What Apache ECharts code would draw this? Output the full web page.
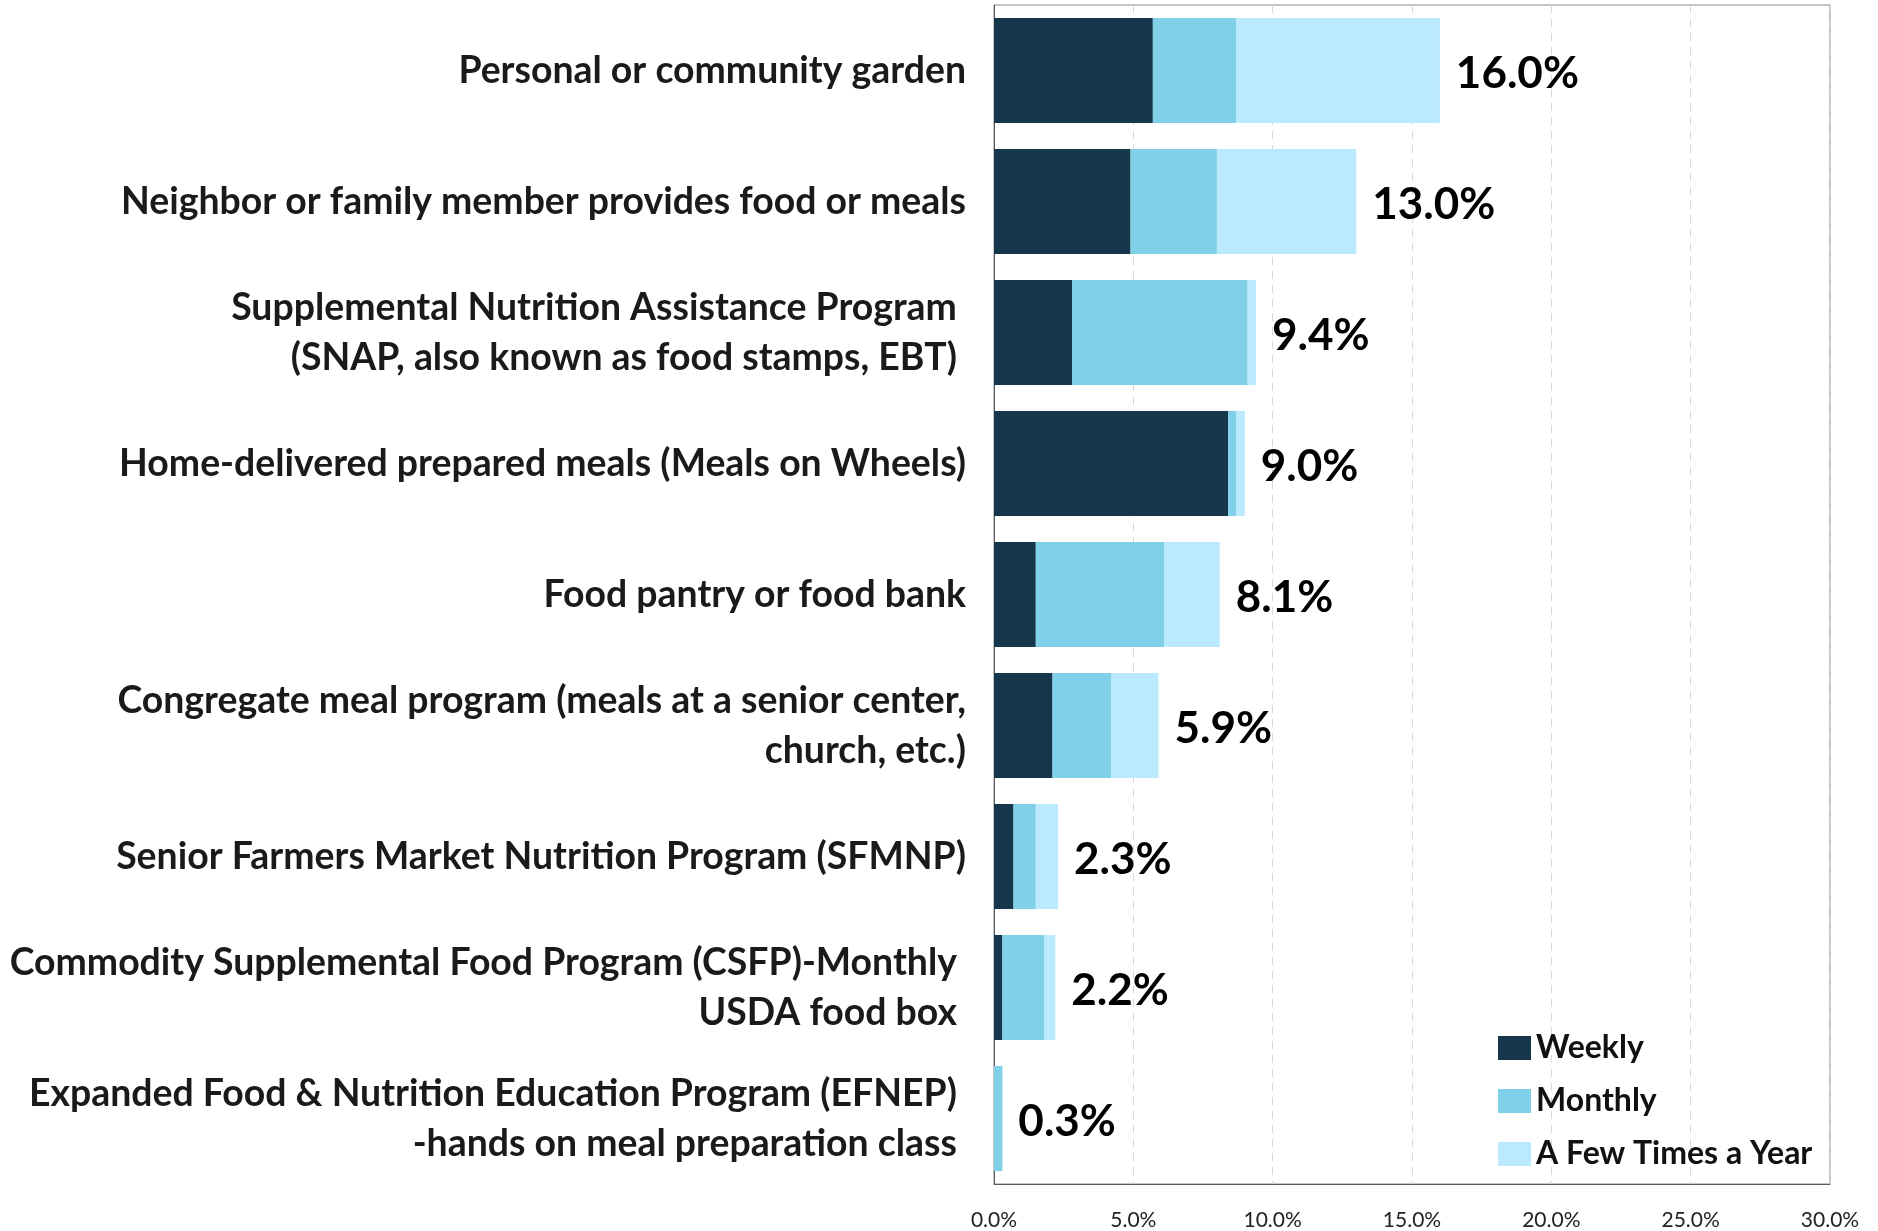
<!DOCTYPE html>
<html>
<head>
<meta charset="utf-8">
<script src="https://cdn.jsdelivr.net/npm/echarts@6.0.0/dist/echarts.min.js"></script>
<style>
    html, body { margin: 0; padding: 0; background: #fff; }
    #myChart { width: 1878px; height: 1231px; }
</style>
</head>
<body>
<div id="myChart"></div>
<script>
// categories, top to bottom
var categories = [
    'Personal or community garden',
    'Neighbor or family member provides food or meals',
    'Supplemental Nutrition Assistance Program \n(SNAP, also known as food stamps, EBT) ',
    'Home-delivered prepared meals (Meals on Wheels)',
    'Food pantry or food bank',
    'Congregate meal program (meals at a senior center,\nchurch, etc.)',
    'Senior Farmers Market Nutrition Program (SFMNP)',
    'Commodity Supplemental Food Program (CSFP)-Monthly \nUSDA food box ',
    'Expanded Food & Nutrition Education Program (EFNEP) \n-hands on meal preparation class '
];
var seriesNames = ['Weekly', 'Monthly', 'A Few Times a Year'];
var weekly   = [5.7, 4.9, 2.8, 8.4, 1.5, 2.1, 0.7, 0.3, 0];
var monthly  = [3.0, 3.1, 6.3, 0.3, 4.6, 2.1, 0.8, 1.5, 0.3];
var fewTimes = [7.3, 5.0, 0.3, 0.3, 2.0, 1.7, 0.8, 0.4, 0];
var totals   = [16.0, 13.0, 9.4, 9.0, 8.1, 5.9, 2.3, 2.2, 0.3];
var colors = ['#16364b', '#7fd0e8', '#bbe9fd'];

var fontName = 'Lato';
var myChart = echarts.init(document.getElementById('myChart'));

function stackBar(name, data, color) {
    return {
        name: name,
        type: 'bar',
        stack: 'total',
        barCategoryGap: '20%',
        itemStyle: { color: color },
        emphasis: { disabled: true },
        data: data
    };
}

var option = {
    animation: false,
    grid: {
        left: 994,
        right: 48,
        top: 5,
        bottom: 47,
        containLabel: false,
        show: true,
        borderColor: '#8c8c8c',
        borderWidth: 1
    },
    legend: {
        data: seriesNames,
        orient: 'vertical',
        left: 1498,
        top: 1032,
        padding: 0,
        icon: 'rect',
        itemWidth: 33,
        itemHeight: 24,
        itemGap: 21,
        textStyle: {
            fontFamily: fontName,
            fontWeight: 'bold',
            fontSize: 32,
            lineHeight: 24,
            color: '#111',
            padding: 0
        }
    },
    xAxis: {
        type: 'value',
        min: 0,
        max: 30,
        interval: 5,
        axisLine: { show: true, lineStyle: { color: '#595959' } },
        axisTick: { show: false },
        splitLine: { show: true, lineStyle: { color: '#d9d9d9', type: [8, 6] } },
        axisLabel: {
            margin: 26,
            fontFamily: fontName,
            fontSize: 21,
            color: '#222',
            formatter: function (v) { return v.toFixed(1) + '%'; }
        }
    },
    yAxis: {
        type: 'category',
        inverse: true,
        data: categories,
        axisLine: { show: true, lineStyle: { color: '#595959' } },
        axisTick: { show: false },
        axisLabel: {
            margin: 28,
            fontFamily: fontName,
            fontWeight: 'bold',
            fontSize: 37.4,
            lineHeight: 50,
            color: '#1a1a1a',
            align: 'right'
        }
    },
    series: [
        stackBar(seriesNames[0], weekly, colors[0]),
        stackBar(seriesNames[1], monthly, colors[1]),
        stackBar(seriesNames[2], fewTimes, colors[2]),
        {
            name: 'Total',
            type: 'bar',
            barGap: '-100%',
            barCategoryGap: '20%',
            silent: true,
            z: 1,
            itemStyle: { color: 'rgba(0,0,0,0)' },
            label: {
                show: true,
                position: 'right',
                distance: 16,
                offset: [0, 3],
                fontFamily: fontName,
                fontWeight: 'bold',
                fontSize: 44,
                color: '#000',
                formatter: function (p) { return p.value.toFixed(1) + '%'; }
            },
            data: totals
        }
    ]
};
myChart.setOption(option);
</script>
</body>
</html>
